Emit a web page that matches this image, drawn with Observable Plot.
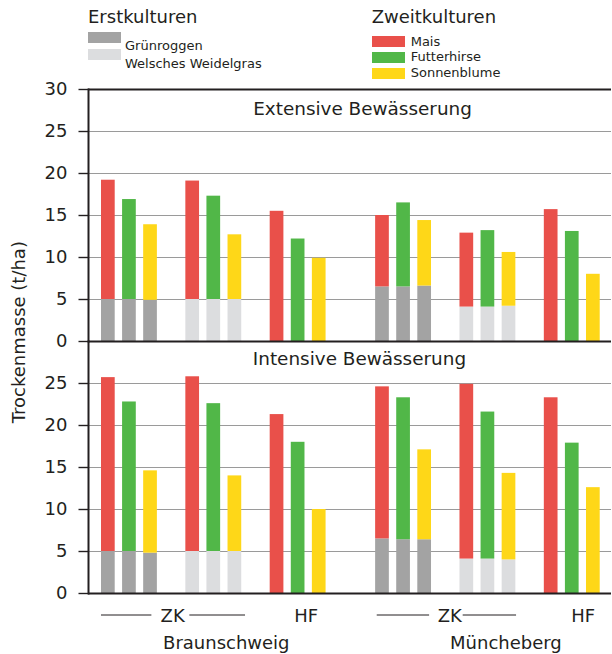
<!DOCTYPE html>
<html>
<head>
<meta charset="utf-8">
<script src="https://cdn.jsdelivr.net/npm/d3@7"></script>
<script src="https://cdn.jsdelivr.net/npm/@observablehq/plot@0.6"></script>
<style>
  body { margin: 0; background: #fff; }
  #figure { position: relative; width: 612px; font-family: "DejaVu Sans", sans-serif; color: #231f20; }
  #legend { position: relative; height: 78px; }
  #legend div { position: absolute; white-space: nowrap; }
  #legend .head { font-size: 18px; line-height: 18px; }
  #legend .item { font-size: 13px; line-height: 13px; }
  #legend .swatch { width: 33px; height: 11px; }
  #figure svg { display: block; }
</style>
</head>
<body>
<div id="figure"><div id="legend"></div></div>
<script>
// Trockenmasse (t/ha) je Standort, Anbausystem und Zweitkultur
const panels = ["Extensive Bewässerung", "Intensive Bewässerung"];
const locations = ["Braunschweig", "Müncheberg"];
const systemLabels = ["ZK", "ZK", "HF"];                      // Zweikultur / Hauptfrucht
const systemFirstCrop = ["Grünroggen", "Welsches Weidelgras", null];
const firstCrops = ["Grünroggen", "Welsches Weidelgras"];
const secondCrops = ["Mais", "Futterhirse", "Sonnenblume"];
const firstColors = ["#a3a3a3", "#dcdddf"];
const secondColors = ["#e9504a", "#51b748", "#fed718"];
const yTicks = [0, 5, 10, 15, 20, 25];
const yMax = 30;

// order: Standort -> System (ZK Grünroggen, ZK Weidelgras, HF) -> Mais, Futterhirse, Sonnenblume
const extensiveTotal = [19.2, 16.9, 13.9, 19.1, 17.3, 12.7, 15.5, 12.2, 9.9,
                        15.0, 16.5, 14.4, 12.9, 13.2, 10.6, 15.7, 13.1, 8.0];
const extensiveFirst = [5.0, 5.0, 4.9, 5.0, 5.0, 5.0, 0, 0, 0,
                        6.5, 6.5, 6.6, 4.1, 4.1, 4.2, 0, 0, 0];
const intensiveTotal = [25.7, 22.8, 14.6, 25.8, 22.6, 14.0, 21.3, 18.0, 10.0,
                        24.6, 23.3, 17.1, 24.9, 21.6, 14.3, 23.3, 17.9, 12.6];
const intensiveFirst = [5.0, 5.0, 4.8, 5.0, 5.0, 5.0, 0, 0, 0,
                        6.5, 6.4, 6.4, 4.1, 4.1, 4.0, 0, 0, 0];

// ---- table of bars
const rows = [];
panels.forEach((panel, pi) => {
  const totals = pi === 0 ? extensiveTotal : intensiveTotal;
  const firsts = pi === 0 ? extensiveFirst : intensiveFirst;
  let i = 0;
  for (const loc of locations) {
    systemFirstCrop.forEach((first, s) => {
      for (const crop of secondCrops) {
        rows.push({panel, key: `${loc}|${s}|${crop}`, first, crop, base: firsts[i], total: totals[i]});
        ++i;
      }
    });
  }
});

// ---- band slots, with empty slots between systems and locations
const slots = [];
locations.forEach((loc, li) => {
  if (li > 0) slots.push(`${loc}|pad1`, `${loc}|pad2`);
  systemFirstCrop.forEach((_, s) => {
    if (s > 0) slots.push(`${loc}|gap${s}`);
    secondCrops.forEach(crop => slots.push(`${loc}|${s}|${crop}`));
  });
});

// ---- legend
const legend = document.getElementById("legend");
function put(cls, left, top, text, bg) {
  const d = document.createElement("div");
  d.className = cls;
  d.style.left = left + "px";
  d.style.top = top + "px";
  if (text) d.textContent = text;
  if (bg) d.style.background = bg;
  legend.appendChild(d);
}
put("head", 88, 7.8, "Erstkulturen");
firstCrops.forEach((c, i) => {
  put("swatch", 88, 32.3 + i * 16.7, null, firstColors[i]);
  put("item", 125, 39.2 + i * 17.6, c);
});
put("head", 371.7, 7.8, "Zweitkulturen");
secondCrops.forEach((c, i) => {
  put("swatch", 371.7, 35.7 + i * 16, null, secondColors[i]);
  put("item", 410.7, 34.5 + i * 15.9, c);
});

// ---- chart
const ink = "#231f20";
const axisStyle = {tickSize: 9.5, tickPadding: 11.5, fontSize: 18, color: ink, strokeWidth: 1.4, label: null};
const bottom = () => panels[1];
const bottomText = (text, slot, dx, dy) =>
  Plot.text([text], {fy: bottom, x: () => slot, text: d => d, frameAnchor: "bottom",
                     lineAnchor: "middle", dx, dy, fontSize: 18, fill: ink});
const bracket = (loc, s, insetLeft, insetRight) =>
  Plot.ruleY([0], {fy: bottom, x1: () => `${loc}|${s}|${secondCrops[0]}`,
                   x2: () => `${loc}|${s}|${secondCrops[2]}`,
                   dy: 21.5, insetLeft, insetRight, stroke: ink, strokeWidth: 1});

const chart = Plot.plot({
  width: 612,
  height: 576,
  marginLeft: 88,
  marginRight: 1,
  marginTop: 11,
  marginBottom: 61,
  style: {fontFamily: "'DejaVu Sans', sans-serif", color: ink, background: "white", overflow: "visible"},
  x: {type: "band", domain: slots, paddingInner: 0.35, paddingOuter: 0.576, align: 0.535, round: false, axis: null},
  y: {domain: [0, yMax], axis: null, label: null},
  fy: {domain: panels, padding: 0, round: false, axis: null},
  color: {domain: [...firstCrops, ...secondCrops], range: [...firstColors, ...secondColors]},
  marks: [
    Plot.gridY(yTicks.filter(v => v > 0), {stroke: "#9a9a9a", strokeOpacity: 1, strokeWidth: 1.2}),
    // Erstkultur (unten) und Zweitkultur (darauf)
    Plot.rectY(rows.filter(d => d.first && d.base > 0), {x: "key", y: "base", fy: "panel", fill: "first"}),
    Plot.rectY(rows, {x: "key", y1: "base", y2: "total", fy: "panel", fill: "crop"}),
    Plot.ruleY([0], {stroke: ink, strokeWidth: 2}),
    Plot.ruleY([yMax], {stroke: ink, strokeWidth: 2, facetAnchor: "top"}),
    Plot.frame({anchor: "left", stroke: ink, strokeWidth: 2}),
    Plot.axisY(yTicks, axisStyle),
    Plot.axisY([yMax], {...axisStyle, facetAnchor: "top"}),
    // panel titles
    Plot.text([panels[0]], {fy: d => d, text: d => d, frameAnchor: "top-left", textAnchor: "start",
                            lineAnchor: "middle", dx: 164.7, dy: 19.5, fontSize: 18.4, fill: ink}),
    Plot.text([panels[1]], {fy: d => d, text: d => d, frameAnchor: "top-left", textAnchor: "start",
                            lineAnchor: "middle", dx: 164.3, dy: 17.2, fontSize: 18.4, fill: ink}),
    // y label
    Plot.text(["Trockenmasse (t/ha)"], {fy: () => panels[0], text: d => d, frameAnchor: "bottom-left",
                                        textAnchor: "middle", lineAnchor: "middle",
                                        rotate: -90, dx: -69.7, dy: -9.3, fontSize: 18, fill: ink}),
    // system and location labels
    bracket(locations[0], 0, 0, 5.5), bracket(locations[0], 1, 4, -3.8),
    bracket(locations[1], 0, 1.6, 1.9), bracket(locations[1], 1, 3.2, -0.7),
    bottomText(systemLabels[0], `${locations[0]}|gap1`, 1, 23),
    bottomText(systemLabels[2], `${locations[0]}|2|${secondCrops[1]}`, 8, 23),
    bottomText(systemLabels[0], `${locations[1]}|gap1`, 4, 23),
    bottomText(systemLabels[2], `${locations[1]}|2|${secondCrops[1]}`, 11, 23),
    bottomText(locations[0], `${locations[0]}|1|${secondCrops[1]}`, 12.5, 49.5),
    bottomText(locations[1], `${locations[1]}|1|${secondCrops[1]}`, 18, 49.5)
  ]
});
document.getElementById("figure").appendChild(chart);
</script>
</body>
</html>
